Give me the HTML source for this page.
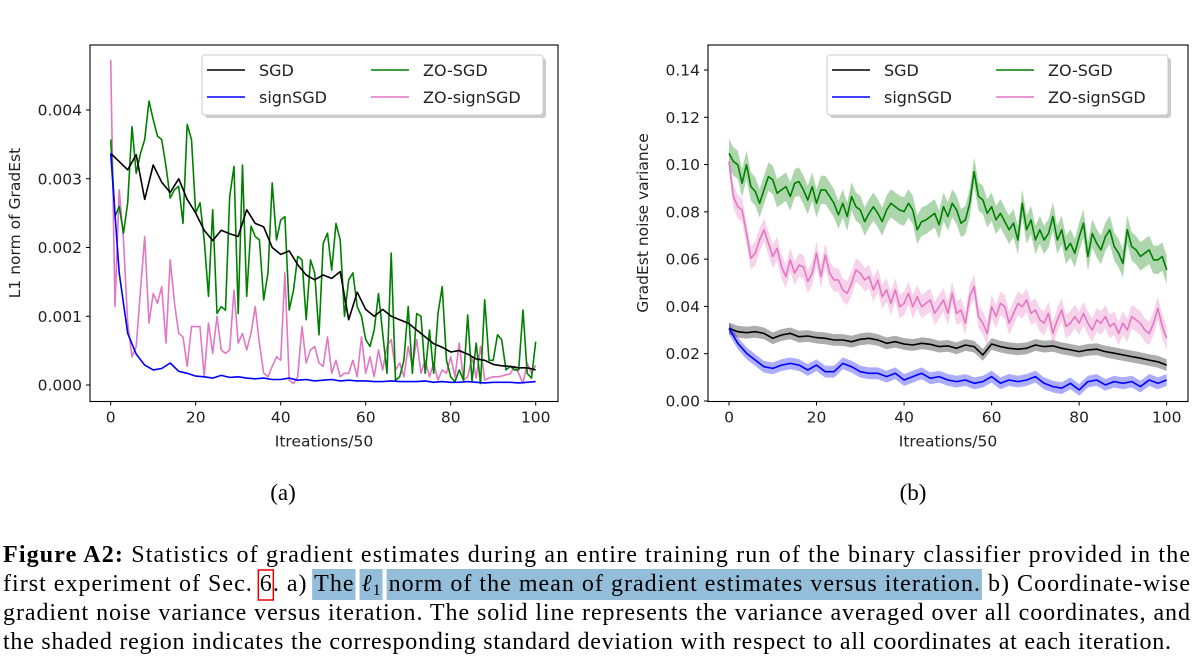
<!DOCTYPE html>
<html><head><meta charset="utf-8">
<style>
html,body{margin:0;padding:0;background:#fff;}
svg{display:block;}
.tk{font-family:"DejaVu Sans","Liberation Sans",sans-serif;font-size:15.5px;fill:#222;}
.lg{font-family:"DejaVu Sans","Liberation Sans",sans-serif;font-size:16px;fill:#222;}
.cap{font-family:"Liberation Serif",serif;font-size:24px;fill:#000;}
</style></head>
<body>
<svg id="fig" width="1194" height="656" viewBox="0 0 1194 656" xmlns="http://www.w3.org/2000/svg">
<g id="chartA"></g>
<g id="chartB"></g>
<text x="283" y="500" text-anchor="middle" font-family="Liberation Serif, serif" font-size="23">(a)</text>
<text x="913" y="500" text-anchor="middle" font-family="Liberation Serif, serif" font-size="23">(b)</text>
<g>
<g id="hl"></g>
<text class="cap" x="3" y="562" textLength="1187" lengthAdjust="spacing"><tspan font-weight="bold">Figure A2:</tspan> Statistics of gradient estimates during an entire training run of the binary classifier provided in the</text>
<text id="l2" class="cap" x="3" y="591" textLength="1187" lengthAdjust="spacing">first experiment of Sec. <tspan id="s6">6</tspan>. a) <tspan id="sThe">The</tspan> <tspan id="sL" font-style="italic">ℓ</tspan><tspan id="s1" font-size="16" dy="4">1</tspan><tspan dy="-4"> </tspan><tspan id="sNorm">norm of the mean of gradient estimates versus iteration.</tspan> b) Coordinate-wise</text>
<text class="cap" x="3" y="620" textLength="1187" lengthAdjust="spacing">gradient noise variance versus iteration. The solid line represents the variance averaged over all coordinates, and</text>
<text class="cap" x="3" y="649" textLength="1168" lengthAdjust="spacing">the shaded region indicates the corresponding standard deviation with respect to all coordinates at each iteration.</text>
</g>
</svg>
<script>
// ---------- Chart A data (units of 1e-3) ----------
const seriesNames = ["SGD","signSGD","ZO-SGD","ZO-signSGD"];
const seriesColors = ["#000000","#0000ff","#008000","#e377c2"];
const xTicks = [0,20,40,60,80,100];
const yTicksA = [0,1,2,3,4];
const yTickLabelsA = ["0.000","0.001","0.002","0.003","0.004"];
const sgdA = [3.37,3.25,3.13,3.35,2.7,3.2,2.95,2.8,3.0,2.7,2.5,2.25,2.1,2.25,2.2,2.16,2.55,2.35,2.3,2.0,1.9,1.95,1.75,1.6,1.53,1.6,1.55,1.65,0.95,1.35,1.1,1.0,1.1,1.0,0.95,0.9,0.8,0.7,0.6,0.55,0.48,0.5,0.45,0.38,0.36,0.3,0.28,0.27,0.25,0.25,0.22];
const signA = [3.37,1.63,0.75,0.45,0.29,0.22,0.24,0.32,0.2,0.17,0.13,0.12,0.1,0.14,0.11,0.12,0.1,0.09,0.1,0.08,0.08,0.1,0.07,0.08,0.06,0.07,0.08,0.06,0.07,0.06,0.06,0.05,0.05,0.06,0.05,0.05,0.05,0.06,0.04,0.05,0.04,0.04,0.05,0.04,0.03,0.04,0.04,0.04,0.03,0.04,0.05];
const zoA = [3.57,2.45,2.60,2.21,2.65,3.76,3.08,3.37,3.57,4.13,3.86,3.62,3.57,3.18,2.72,2.84,2.89,2.35,3.79,3.57,2.50,2.65,2.11,1.29,2.55,1.04,1.14,1.09,2.74,3.18,1.04,3.20,1.29,2.31,2.16,2.11,1.24,1.63,2.94,2.11,2.40,2.45,1.09,1.38,1.87,1.82,0.95,1.82,1.63,0.73,2.06,2.21,1.67,2.35,2.11,1.00,1.53,1.63,1.14,1.00,0.66,0.56,0.80,1.33,0.75,0.17,1.92,0.07,0.12,0.36,1.14,0.17,1.04,1.00,0.17,0.80,0.17,1.04,1.43,0.36,0.12,0.05,0.22,0.07,1.02,0.05,0.61,0.02,1.24,0.36,0.36,0.73,0.66,0.22,0.27,0.22,0.22,1.09,0.17,0.10,0.63];
const zoSignA = [4.73,1.14,2.84,2.11,0.90,0.41,0.56,1.38,2.16,0.90,1.33,1.19,1.43,0.61,1.82,1.19,0.75,0.70,0.27,0.85,0.85,0.85,0.12,0.90,0.46,1.00,0.51,0.46,0.51,1.38,0.61,0.75,0.51,0.75,1.14,0.61,0.17,0.12,0.27,0.41,0.36,1.63,0.07,0.02,0.12,0.85,0.32,0.51,0.56,0.32,0.27,0.70,0.17,0.36,0.12,0.17,0.17,0.36,0.12,0.70,0.17,0.41,0.12,0.51,0.22,0.56,0.66,0.22,0.32,0.12,0.56,0.27,0.66,0.17,0.36,0.12,0.32,0.07,0.22,0.17,0.41,0.12,0.61,0.07,0.12,0.41,0.10,0.56,0.07,0.10,0.12,0.12,0.13,0.15,0.16,0.27,0.17,0.02,0.32,0.17,0.29];
// ---------- Chart B data (units of 0.01) ----------
const yTicksB = [0,2,4,6,8,10,12,14];
const yTickLabelsB = ["0.00","0.02","0.04","0.06","0.08","0.10","0.12","0.14"];
const sgdB = [3.07,2.93,2.89,2.93,2.86,2.65,2.79,2.86,2.72,2.75,2.68,2.65,2.58,2.58,2.51,2.61,2.65,2.58,2.44,2.51,2.41,2.37,2.44,2.40,2.30,2.33,2.23,2.37,2.30,1.95,2.41,2.30,2.23,2.19,2.23,2.37,2.30,2.33,2.23,2.16,2.09,2.16,2.19,2.09,2.02,1.95,1.88,1.81,1.73,1.66,1.52];
const signB = [3.07,2.44,2.02,1.73,1.45,1.38,1.52,1.59,1.52,1.31,1.52,1.24,1.24,1.59,1.45,1.24,1.17,1.17,1.03,1.17,0.89,1.03,1.17,0.96,1.03,0.89,0.82,0.89,0.75,0.82,1.03,0.75,0.89,0.82,0.89,1.03,0.75,0.61,0.54,0.75,0.47,0.82,0.89,0.68,0.82,0.75,0.82,0.61,0.89,0.75,0.89];
const zoB = [10.48,10.13,9.99,9.21,9.99,9.07,8.86,8.36,8.93,9.49,9.35,8.79,8.93,9.07,8.65,9.21,9.28,8.93,8.50,9.07,8.36,8.93,8.93,8.65,8.36,7.87,8.36,7.80,8.65,8.22,8.08,7.59,7.94,8.22,7.94,7.59,8.08,8.36,8.22,8.08,8.01,8.36,8.08,7.24,7.59,7.66,7.80,7.94,7.45,8.22,7.80,8.36,8.08,7.52,7.66,8.36,9.70,8.65,8.50,7.94,8.22,7.66,7.94,7.59,7.24,7.52,6.81,8.36,7.24,7.66,6.81,7.24,6.81,7.09,7.80,6.81,7.24,6.39,6.67,6.25,6.95,7.52,6.11,7.09,6.67,6.39,6.95,7.24,6.53,6.25,5.82,7.24,6.53,6.39,6.11,6.25,6.39,5.97,5.97,6.11,5.54];
const zoSignB = [10.13,8.65,8.22,8.08,7.09,6.04,6.25,6.81,7.24,6.67,6.11,6.46,5.68,5.26,5.97,5.40,5.75,5.68,5.05,5.40,6.25,5.26,6.18,5.40,5.12,5.12,4.70,4.56,4.98,5.54,5.40,5.12,5.26,4.70,5.12,4.41,4.70,4.13,4.70,3.99,4.13,4.56,3.99,4.41,3.99,4.13,4.27,3.71,3.99,4.27,3.71,4.56,3.71,3.85,3.29,4.41,4.84,3.57,3.29,2.86,3.99,3.57,4.13,3.99,3.29,3.71,4.13,3.99,4.27,3.71,3.85,3.43,3.29,3.71,2.86,3.43,3.85,3.15,3.29,3.57,3.29,3.71,3.29,3.00,3.43,3.29,3.57,3.15,3.29,2.86,3.29,3.00,3.57,3.43,3.29,3.00,2.86,3.29,3.92,3.15,2.65];
const stdB = [0.25,0.25,0.6,0.5];

const NS = "http://www.w3.org/2000/svg";
function mk(tag, attrs, parent){
  const e = document.createElementNS(NS, tag);
  for (const k in attrs) e.setAttribute(k, attrs[k]);
  parent.appendChild(e);
  return e;
}
function drawChart(g, cfg){
  const xS = v => cfg.x0 + (v/100)*(cfg.x1-cfg.x0);
  const yS = v => cfg.y0 - (v-cfg.vmin)/(cfg.vmax-cfg.vmin)*(cfg.y0-cfg.y1);
  cfg.series.forEach((s,i)=>{
    if(!cfg.std) return;
    const n=s.length, st=100/(n-1);
    let up=[],dn=[];
    for(let j=0;j<n;j++){up.push(xS(j*st).toFixed(1)+","+yS(s[j]+cfg.std[i]).toFixed(1));}
    for(let j=n-1;j>=0;j--){dn.push(xS(j*st).toFixed(1)+","+yS(s[j]-cfg.std[i]).toFixed(1));}
    const b = mk("polygon",{points:up.concat(dn).join(" "),fill:seriesColors[i],"fill-opacity":0.32,stroke:"none"},g);
    
    
  });
  cfg.order.forEach(i=>{
    const s=cfg.series[i], n=s.length, st=100/(n-1);
    const pts=s.map((v,j)=>xS(j*st).toFixed(1)+","+yS(v).toFixed(1)).join(" ");
    const l = mk("polyline",{points:pts,fill:"none",stroke:seriesColors[i],"stroke-width":1.6,"stroke-linejoin":"round"},g);
    
    
  });
  const f = mk("rect",{x:cfg.fx0,y:cfg.fy0,width:cfg.fx1-cfg.fx0,height:cfg.fy1-cfg.fy0,fill:"none",stroke:"#000","stroke-width":1.1},g);
  
  
  xTicks.forEach(t=>{
    const x=xS(t);
    mk("line",{x1:x,x2:x,y1:cfg.fy1,y2:cfg.fy1+4,stroke:"#000"},g);
    const tx = mk("text",{x:x,y:cfg.fy1+21,"text-anchor":"middle",class:"tk"},g);
    tx.textContent=t;
    
    
  });
  cfg.yTicks.forEach((t,k)=>{
    const y=yS(t);
    mk("line",{x1:cfg.fx0-4,x2:cfg.fx0,y1:y,y2:y,stroke:"#000"},g);
    const ty = mk("text",{x:cfg.fx0-8,y:y+5.5,"text-anchor":"end",class:"tk"},g);
    ty.textContent=cfg.yLabels[k];
    
    
  });
  const xl = mk("text",{x:(cfg.fx0+cfg.fx1)/2,y:cfg.fy1+45,"text-anchor":"middle",class:"tk"},g);
  xl.textContent="Itreations/50";
  
  
  const yl = mk("text",{x:0,y:0,"text-anchor":"middle",class:"tk",transform:"translate("+cfg.ylx+",223) rotate(-90)"},g);
  yl.textContent=cfg.ytitle;
  
  
  const L=cfg.lx;
  const lg = mk("g",{},g);
  
  
  mk("rect",{x:L+3,y:58,width:341,height:60,rx:3,fill:"#999","fill-opacity":0.5},lg);
  mk("rect",{x:L,y:55,width:341,height:60,rx:3,fill:"#fff",stroke:"#ccc"},lg);
  const pos=[[0,0],[0,1],[1,0],[1,1]];
  [0,1,2,3].forEach(i=>{
    const cx=L+5+pos[i][0]*164, cy=70+pos[i][1]*27;
    const e = mk("g",{},lg);
    
    
    mk("line",{x1:cx,x2:cx+38,y1:cy,y2:cy,stroke:seriesColors[i],"stroke-width":1.6},e);
    const t=mk("text",{x:cx+52,y:cy+6,class:"lg"},e);
    t.textContent=seriesNames[i];
  });
}
drawChart(document.getElementById("chartA"),{
  x0:110.7,x1:535.7,y0:385,y1:110,vmin:0,vmax:4,
  fx0:90,fx1:558,fy0:45,fy1:401.5,
  series:[sgdA,signA,zoA,zoSignA],order:[3,2,0,1],
  yTicks:yTicksA,yLabels:yTickLabelsA,ytitle:"L1 norm of GradEst",ylx:20,lx:202
});
drawChart(document.getElementById("chartB"),{
  x0:729,x1:1166.7,y0:401,y1:70,vmin:0,vmax:14,
  fx0:708,fx1:1188,fy0:45,fy1:401.5,
  series:[sgdB,signB,zoB,zoSignB],std:stdB,order:[0,1,2,3],
  yTicks:yTicksB,yLabels:yTickLabelsB,ytitle:"GradEst noise variance",ylx:648,lx:827
});
// caption highlights positioned from measured text
(function(){
  const hl=document.getElementById("hl");
  function box(id){ const b=document.getElementById(id).getBBox(); return b; }
  try{
    const t=box("sThe"), l=box("sL"), one=box("s1"), n=box("sNorm"), s6=box("s6");
    const r1=mk("rect",{x:t.x-2,y:569,width:t.width+4,height:31,fill:"#93bdd8"},hl);
    
    
    const r2=mk("rect",{x:l.x-2,y:569,width:(one.x+one.width)-l.x+4,height:31,fill:"#93bdd8"},hl);
    
    
    const r3=mk("rect",{x:n.x-2,y:569,width:n.width+4,height:31,fill:"#93bdd8"},hl);
    
    
    const r4=mk("rect",{x:s6.x-1.5,y:570,width:s6.width+3,height:30,fill:"none",stroke:"#e00","stroke-width":1.5},document.getElementById("fig"));
    
    
  }catch(e){}
})();
</script>
</body></html>
